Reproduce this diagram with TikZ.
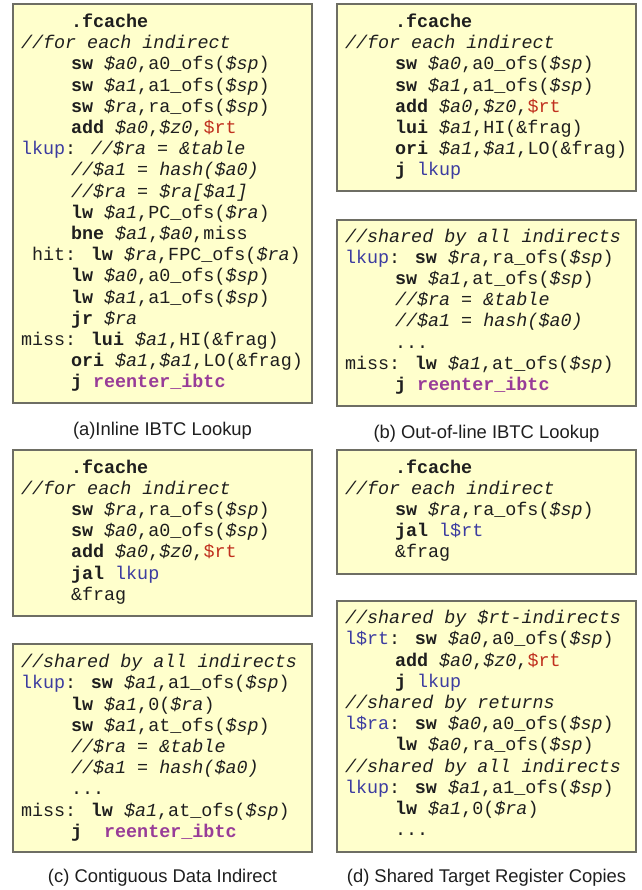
\documentclass[tikz,border=0pt]{standalone}
\usepackage{fontspec}
\setsansfont{Liberation Sans}
\newfontfamily\codefont{Liberation Mono}
\usetikzlibrary{positioning}
\definecolor{boxfill}{HTML}{FFFFCC}
\definecolor{boxline}{HTML}{6E6E64}
\definecolor{codeink}{HTML}{1E1E1E}
\definecolor{labelblue}{HTML}{3C3CA0}
\definecolor{rtred}{HTML}{C0301E}
\definecolor{entrypurple}{HTML}{983C98}

\newcommand{\op}[1]{\textbf{#1}}
\newcommand{\rg}[1]{\textit{#1}}
\newcommand{\cmt}[1]{\textit{#1}}
\newcommand{\lbl}[1]{\textcolor{labelblue}{#1}}
\newcommand{\rtreg}{\textcolor{rtred}{\$rt}}
\newcommand{\entry}[1]{\textcolor{entrypurple}{\textbf{#1}}}
\newcommand{\ind}{\hspace*{25pt}}

\begin{document}
\begin{tikzpicture}[
    every node/.style={inner sep=0pt, text=codeink},
    codebox/.style={
        draw=boxline, line width=1pt, fill=boxfill,
        minimum width=149.5pt, anchor=north west
    },
    codetxt/.style={
        anchor=north west, align=left,
        font=\codefont\fontsize{9.2}{10.6}\selectfont,
        execute at begin node={\rule{0pt}{9pt}}
    },
    caption/.style={font=\sffamily\fontsize{9.2}{11}\selectfont},
]
\useasboundingbox (0,0) rectangle (321pt,-445pt);

% ============ (a) inline lookup ============
\node[codebox, minimum height=199.5pt] (boxa) at (6pt,-1.5pt) {};
\node[codetxt] (codea) at ([shift={(4.3pt,-5.2pt)}]boxa.north west) {%
\ind\op{.fcache}\\
\cmt{//for each indirect}\\
\ind\op{sw} \rg{\$a0},a0\_ofs(\rg{\$sp})\\
\ind\op{sw} \rg{\$a1},a1\_ofs(\rg{\$sp})\\
\ind\op{sw} \rg{\$ra},ra\_ofs(\rg{\$sp})\\
\ind\op{add} \rg{\$a0},\rg{\$z0},\rtreg\\
\lbl{lkup}: \cmt{//\$ra = \&table}\\
\ind\cmt{//\$a1 = hash(\$a0)}\\
\ind\cmt{//\$ra = \$ra[\$a1]}\\
\ind\op{lw} \rg{\$a1},PC\_ofs(\rg{\$ra})\\
\ind\op{bne} \rg{\$a1},\rg{\$a0},miss\\
\hspace*{0.6em}hit: \op{lw} \rg{\$ra},FPC\_ofs(\rg{\$ra})\\
\ind\op{lw} \rg{\$a0},a0\_ofs(\rg{\$sp})\\
\ind\op{lw} \rg{\$a1},a1\_ofs(\rg{\$sp})\\
\ind\op{jr} \rg{\$ra}\\
miss: \op{lui} \rg{\$a1},HI(\&frag)\\
\ind\op{ori} \rg{\$a1},\rg{\$a1},LO(\&frag)\\
\ind\op{j} \entry{reenter\_ibtc}};
\node[caption, below=9pt of boxa] (capa) {(a)Inline IBTC Lookup};

% ============ (b) out-of-line lookup ============
\node[codebox, minimum height=93.5pt] (boxb1) at (168pt,-1.5pt) {};
\node[codetxt] (codeb1) at ([shift={(4.3pt,-5.2pt)}]boxb1.north west) {%
\ind\op{.fcache}\\
\cmt{//for each indirect}\\
\ind\op{sw} \rg{\$a0},a0\_ofs(\rg{\$sp})\\
\ind\op{sw} \rg{\$a1},a1\_ofs(\rg{\$sp})\\
\ind\op{add} \rg{\$a0},\rg{\$z0},\rtreg\\
\ind\op{lui} \rg{\$a1},HI(\&frag)\\
\ind\op{ori} \rg{\$a1},\rg{\$a1},LO(\&frag)\\
\ind\op{j} \lbl{lkup}};

\node[codebox, minimum height=93pt, below=13.5pt of boxb1] (boxb2) {};
\node[codetxt] (codeb2) at ([shift={(4.3pt,-4.7pt)}]boxb2.north west) {%
\cmt{//shared by all indirects}\\
\lbl{lkup}: \op{sw} \rg{\$ra},ra\_ofs(\rg{\$sp})\\
\ind\op{sw} \rg{\$a1},at\_ofs(\rg{\$sp})\\
\ind\cmt{//\$ra = \&table}\\
\ind\cmt{//\$a1 = hash(\$a0)}\\
\ind...\\
miss: \op{lw} \rg{\$a1},at\_ofs(\rg{\$sp})\\
\ind\op{j} \entry{reenter\_ibtc}};
\node[caption, below=9pt of boxb2] (capb) {(b) Out-of-line IBTC Lookup};

% ============ (c) contiguous data ============
\node[codebox, minimum height=83pt] (boxc1) at (6pt,-224.5pt) {};
\node[codetxt] (codec1) at ([shift={(4.3pt,-5pt)}]boxc1.north west) {%
\ind\op{.fcache}\\
\cmt{//for each indirect}\\
\ind\op{sw} \rg{\$ra},ra\_ofs(\rg{\$sp})\\
\ind\op{sw} \rg{\$a0},a0\_ofs(\rg{\$sp})\\
\ind\op{add} \rg{\$a0},\rg{\$z0},\rtreg\\
\ind\op{jal} \lbl{lkup}\\
\ind\&frag};

\node[codebox, minimum height=104pt, below=13pt of boxc1] (boxc2) {};
\node[codetxt] (codec2) at ([shift={(4.3pt,-5.5pt)}]boxc2.north west) {%
\cmt{//shared by all indirects}\\
\lbl{lkup}: \op{sw} \rg{\$a1},a1\_ofs(\rg{\$sp})\\
\ind\op{lw} \rg{\$a1},0(\rg{\$ra})\\
\ind\op{sw} \rg{\$a1},at\_ofs(\rg{\$sp})\\
\ind\cmt{//\$ra = \&table}\\
\ind\cmt{//\$a1 = hash(\$a0)}\\
\ind...\\
miss: \op{lw} \rg{\$a1},at\_ofs(\rg{\$sp})\\
\ind\op{j}~ \entry{reenter\_ibtc}};
\node[caption, below=8pt of boxc2] (capc) {(c) Contiguous Data Indirect};

% ============ (d) shared target register copies ============
\node[codebox, minimum height=62pt] (boxd1) at (168pt,-224.5pt) {};
\node[codetxt] (coded1) at ([shift={(4.3pt,-5pt)}]boxd1.north west) {%
\ind\op{.fcache}\\
\cmt{//for each indirect}\\
\ind\op{sw} \rg{\$ra},ra\_ofs(\rg{\$sp})\\
\ind\op{jal} \lbl{l\$rt}\\
\ind\&frag};

\node[codebox, minimum height=125.5pt, below=12.5pt of boxd1] (boxd2) {};
\node[codetxt] (coded2) at ([shift={(4.3pt,-5pt)}]boxd2.north west) {%
\cmt{//shared by \$rt-indirects}\\
\lbl{l\$rt}: \op{sw} \rg{\$a0},a0\_ofs(\rg{\$sp})\\
\ind\op{add} \rg{\$a0},\rg{\$z0},\rtreg\\
\ind\op{j} \lbl{lkup}\\
\cmt{//shared by returns}\\
\lbl{l\$ra}: \op{sw} \rg{\$a0},a0\_ofs(\rg{\$sp})\\
\ind\op{lw} \rg{\$a0},ra\_ofs(\rg{\$sp})\\
\cmt{//shared by all indirects}\\
\lbl{lkup}: \op{sw} \rg{\$a1},a1\_ofs(\rg{\$sp})\\
\ind\op{lw} \rg{\$a1},0(\rg{\$ra})\\
\ind...};
\node[caption, below=8pt of boxd2] (capd) {(d) Shared Target Register Copies};

\end{tikzpicture}
\end{document}
